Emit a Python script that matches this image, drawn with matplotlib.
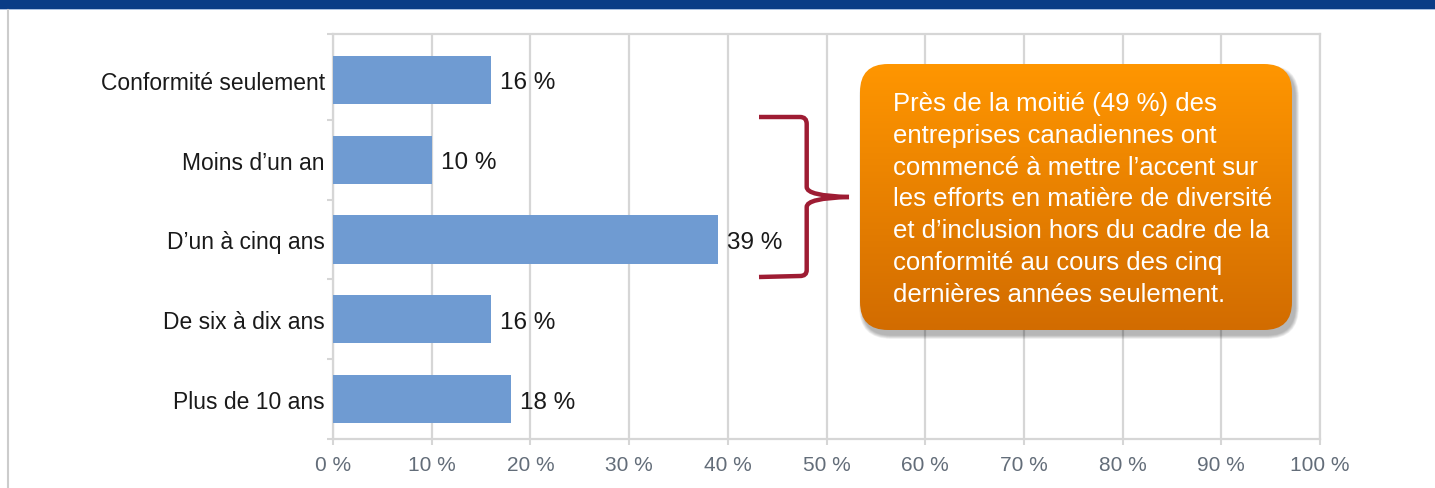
import numpy as np
import matplotlib
matplotlib.use("Agg")
import matplotlib.pyplot as plt
from matplotlib.patches import FancyBboxPatch, Rectangle, PathPatch
from matplotlib.path import Path

plt.rcParams['font.family'] = ['Liberation Sans', 'DejaVu Sans']

# ---- data ----
categories = ["Conformité seulement", "Moins d’un an", "D’un à cinq ans",
              "De six à dix ans", "Plus de 10 ans"]
values = [16, 10, 39, 16, 18]
xticks = list(range(0, 101, 10))
xtick_labels = [f"{t} %" for t in xticks]
callout_lines = ["Près de la moitié (49 %) des",
                 "entreprises canadiennes ont",
                 "commencé à mettre l’accent sur",
                 "les efforts en matière de diversité",
                 "et d’inclusion hors du cadre de la",
                 "conformité au cours des cinq",
                 "dernières années seulement."]

W, H = 1435, 489
fig = plt.figure(figsize=(W / 100, H / 100), dpi=100)
fig.patch.set_facecolor("white")

# main axes (pixel geometry)
x0, x1 = 333, 1320
y_top, y_bot = 35.3, 440
ax = fig.add_axes([x0 / W, 1 - y_bot / H, (x1 - x0) / W, (y_bot - y_top) / H])

ypos = np.arange(len(categories))
ax.barh(ypos, values, height=0.605, color="#6f9bd2", zorder=3)
ax.set_xlim(0, 100)
ax.set_ylim(4.5, -0.571)

grid_c = "#d6d6d6"
ax.set_xticks(xticks)
ax.set_xticklabels(xtick_labels, fontsize=15, color="#636d79")
ax.tick_params(axis="x", length=4.5, width=1.5, color=grid_c, pad=7)
ax.xaxis.grid(True, color=grid_c, lw=1.6, zorder=0)
ax.set_axisbelow(True)

ax.set_yticks(ypos)
ax.set_yticklabels(categories, fontsize=16.5, color="#1a1a1a")
ax.tick_params(axis="y", which="major", length=0, pad=6)
ax.set_yticks([-0.571, 0.5, 1.5, 2.5, 3.5, 4.5], minor=True)
ax.tick_params(axis="y", which="minor", length=4.5, width=1.5, color=grid_c)

for s in ax.spines.values():
    s.set_color(grid_c)
    s.set_linewidth(1.6)

for y, v in zip(ypos, values):
    ax.annotate(f"{v} %", xy=(v, y), xytext=(6.5, 0), textcoords="offset points",
                va="center_baseline", ha="left", fontsize=17.5, color="#1a1a1a",
                zorder=4)

# overlay axes in pixel coordinates for decorations
ov = fig.add_axes([0, 0, 1, 1], zorder=5)
ov.set_xlim(0, W)
ov.set_ylim(H, 0)
ov.axis("off")
ov.patch.set_alpha(0)

# top band and left border
ov.add_patch(Rectangle((0, 0), W, 9.5, color="#0a3d86", lw=0))
ov.add_patch(Rectangle((0, 9.5), W, 1.5, color="#a9c0e0", lw=0))
ov.plot([7.5, 7.5], [11, H], color="#cccccc", lw=1.5)

# callout box
bx, by, bw, bh = 860, 65, 432, 266
for k in range(8, 0, -1):
    sh = FancyBboxPatch((bx + 3 - k * 0.5, by + 5 - k * 0.5), bw + k, bh + k,
                        boxstyle="round,pad=0,rounding_size=%g" % (28 + k * 0.5),
                        fc="black", ec="none", alpha=0.04)
    ov.add_patch(sh)
box = FancyBboxPatch((bx, by), bw, bh, boxstyle="round,pad=0,rounding_size=28",
                     fc="none", ec="none")
ov.add_patch(box)
top_c = np.array([255, 150, 0]) / 255
bot_c = np.array([210, 108, 0]) / 255
t = np.linspace(0, 1, 256)[:, None]
grad = (top_c[None, :] * (1 - t) + bot_c[None, :] * t)[:, None, :]
grad = np.repeat(grad, 2, axis=1)
im = ov.imshow(grad, extent=[bx, bx + bw, by + bh, by], aspect="auto",
               interpolation="bilinear", zorder=2)
im.set_clip_path(box)
ov.set_xlim(0, W)
ov.set_ylim(H, 0)

for i, line in enumerate(callout_lines):
    ov.text(893, 111 + i * 31.8, line, fontsize=18.5, color="white",
            ha="left", va="baseline", zorder=3)

# bracket
bc = "#9e1c33"
verts_u = [(759, 118), (800, 118), (806.7, 118), (806.7, 125),
           (806.7, 188), (806.7, 197), (849, 198)]
codes_u = [Path.MOVETO, Path.LINETO, Path.CURVE3, Path.CURVE3,
           Path.LINETO, Path.CURVE3, Path.CURVE3]
verts_l = [(849, 198), (806.7, 199), (806.7, 208),
           (806.7, 271), (806.7, 277), (800, 277), (759, 278)]
codes_l = [Path.MOVETO, Path.CURVE3, Path.CURVE3,
           Path.LINETO, Path.CURVE3, Path.CURVE3, Path.LINETO]
for v, c in [(verts_u, codes_u), (verts_l, codes_l)]:
    ov.add_patch(PathPatch(Path(v, c), fc="none", ec=bc, lw=3.2,
                           capstyle="butt", joinstyle="miter", zorder=3))

fig.savefig("out.png", dpi=100)
